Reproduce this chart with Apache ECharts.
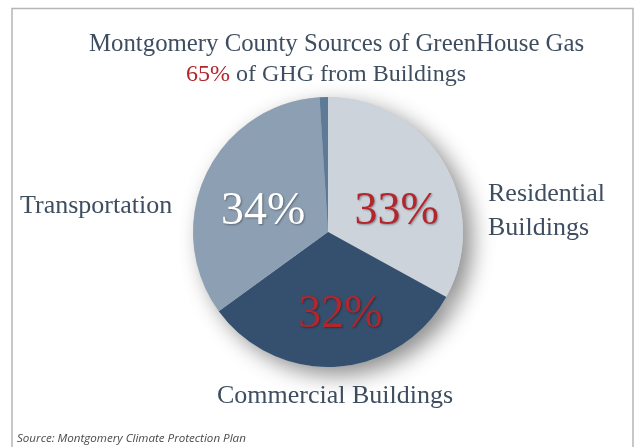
<!DOCTYPE html>
<html>
<head>
<meta charset="utf-8">
<script src="https://cdn.jsdelivr.net/npm/echarts@6/dist/echarts.min.js"></script>
<style>
  html, body { margin: 0; padding: 0; background: #ffffff; }
  #chart { width: 637px; height: 447px; }
</style>
</head>
<body>
<div id="chart"></div>
<script>
// Shares of greenhouse-gas emissions by source (percent)
const categories = ['Residential Buildings', 'Commercial Buildings', 'Transportation', 'Other'];
const shares = [33, 32, 34, 1];
const sliceColors = ['#cdd3db', '#34506e', '#8d9fb2', '#5d7b97'];
const labelColors = ['#b3262c', '#b3262c', '#ffffff', null];

const titleLine1 = 'Montgomery County Sources of GreenHouse Gas';
const buildingShare = shares[0] + shares[1];
const titleLine2 = ' of GHG from Buildings';
const sourceNote = 'Source: Montgomery Climate Protection Plan';

const serif = '"Liberation Serif", "DejaVu Serif", serif';
const textColor = '#3e4e60';
const red = '#b3262c';

// small nudges for the in-slice percentage labels
const labelNudge = [[8, 6], [8, 3], [-1, 0], [0, 0]];

const chart = echarts.init(document.getElementById('chart'), null, { renderer: 'canvas' });

const pieData = categories.map((name, i) => ({
  name: name,
  value: shares[i],
  itemStyle: { color: sliceColors[i] },
  label: labelColors[i]
    ? { show: true, color: labelColors[i] }
    : { show: false }
}));

const center = [328, 232];
const radius = 135;

chart.setOption({
  animation: false,
  backgroundColor: '#ffffff',
  title: [
    {
      left: 84,
      top: 27,
      text: titleLine1,
      textStyle: { fontFamily: serif, fontSize: 24.8, fontWeight: 'normal', color: textColor }
    },
    {
      left: 181,
      top: 58,
      text: '{r|' + buildingShare + '%}{t|' + titleLine2 + '}',
      textStyle: {
        fontFamily: serif,
        fontSize: 24,
        fontWeight: 'normal',
        rich: {
          r: { fontFamily: serif, fontSize: 24, color: red },
          t: { fontFamily: serif, fontSize: 24, color: textColor }
        }
      }
    }
  ],
  series: [
    {
      // soft drop shadow under the disc
      type: 'pie',
      silent: true,
      z: 1,
      center: center,
      radius: radius,
      startAngle: 90,
      label: { show: false },
      labelLine: { show: false },
      itemStyle: {
        color: '#cfd4da',
        borderWidth: 0,
        shadowBlur: 22,
        shadowOffsetX: 9,
        shadowOffsetY: 8,
        shadowColor: 'rgba(0,0,0,0.45)'
      },
      data: categories.map((name, i) => ({ name: name, value: shares[i] }))
    },
    {
      type: 'pie',
      z: 2,
      center: center,
      radius: radius,
      startAngle: 90,
      clockwise: true,
      itemStyle: { borderWidth: 0 },
      label: {
        position: 'inside',
        formatter: '{c}%',
        fontFamily: serif,
        fontSize: 46,
        textShadowColor: 'rgba(0,0,0,0.35)',
        textShadowBlur: 2,
        textShadowOffsetX: 1,
        textShadowOffsetY: 1
      },
      labelLayout: function (params) {
        const n = labelNudge[params.dataIndex] || [0, 0];
        return { dx: n[0], dy: 10 + n[1] };
      },
      labelLine: { show: false },
      emphasis: { disabled: true },
      data: pieData
    }
  ],
  graphic: [
    {
      type: 'polyline',
      shape: { points: [[12, 447], [12, 8.5], [633, 8.5], [633, 447]] },
      style: { stroke: '#b5b5b5', lineWidth: 1.5, fill: null }
    },
    {
      type: 'text',
      left: 488, top: 177,
      style: {
        text: categories[0].replace(' ', '\n'),
        font: '26px ' + serif,
        fill: textColor,
        lineHeight: 34
      }
    },
    {
      type: 'text',
      left: 20, top: 193,
      style: { text: categories[2], font: '26px ' + serif, fill: textColor }
    },
    {
      type: 'text',
      left: 217, top: 383,
      style: { text: categories[1], font: '26px ' + serif, fill: textColor }
    },
    {
      type: 'text',
      left: 17, top: 433,
      style: {
        text: sourceNote,
        font: 'italic 11.6px "Open Sans", "DejaVu Sans", sans-serif',
        fill: '#4a4a4a'
      }
    }
  ]
});
</script>
</body>
</html>
